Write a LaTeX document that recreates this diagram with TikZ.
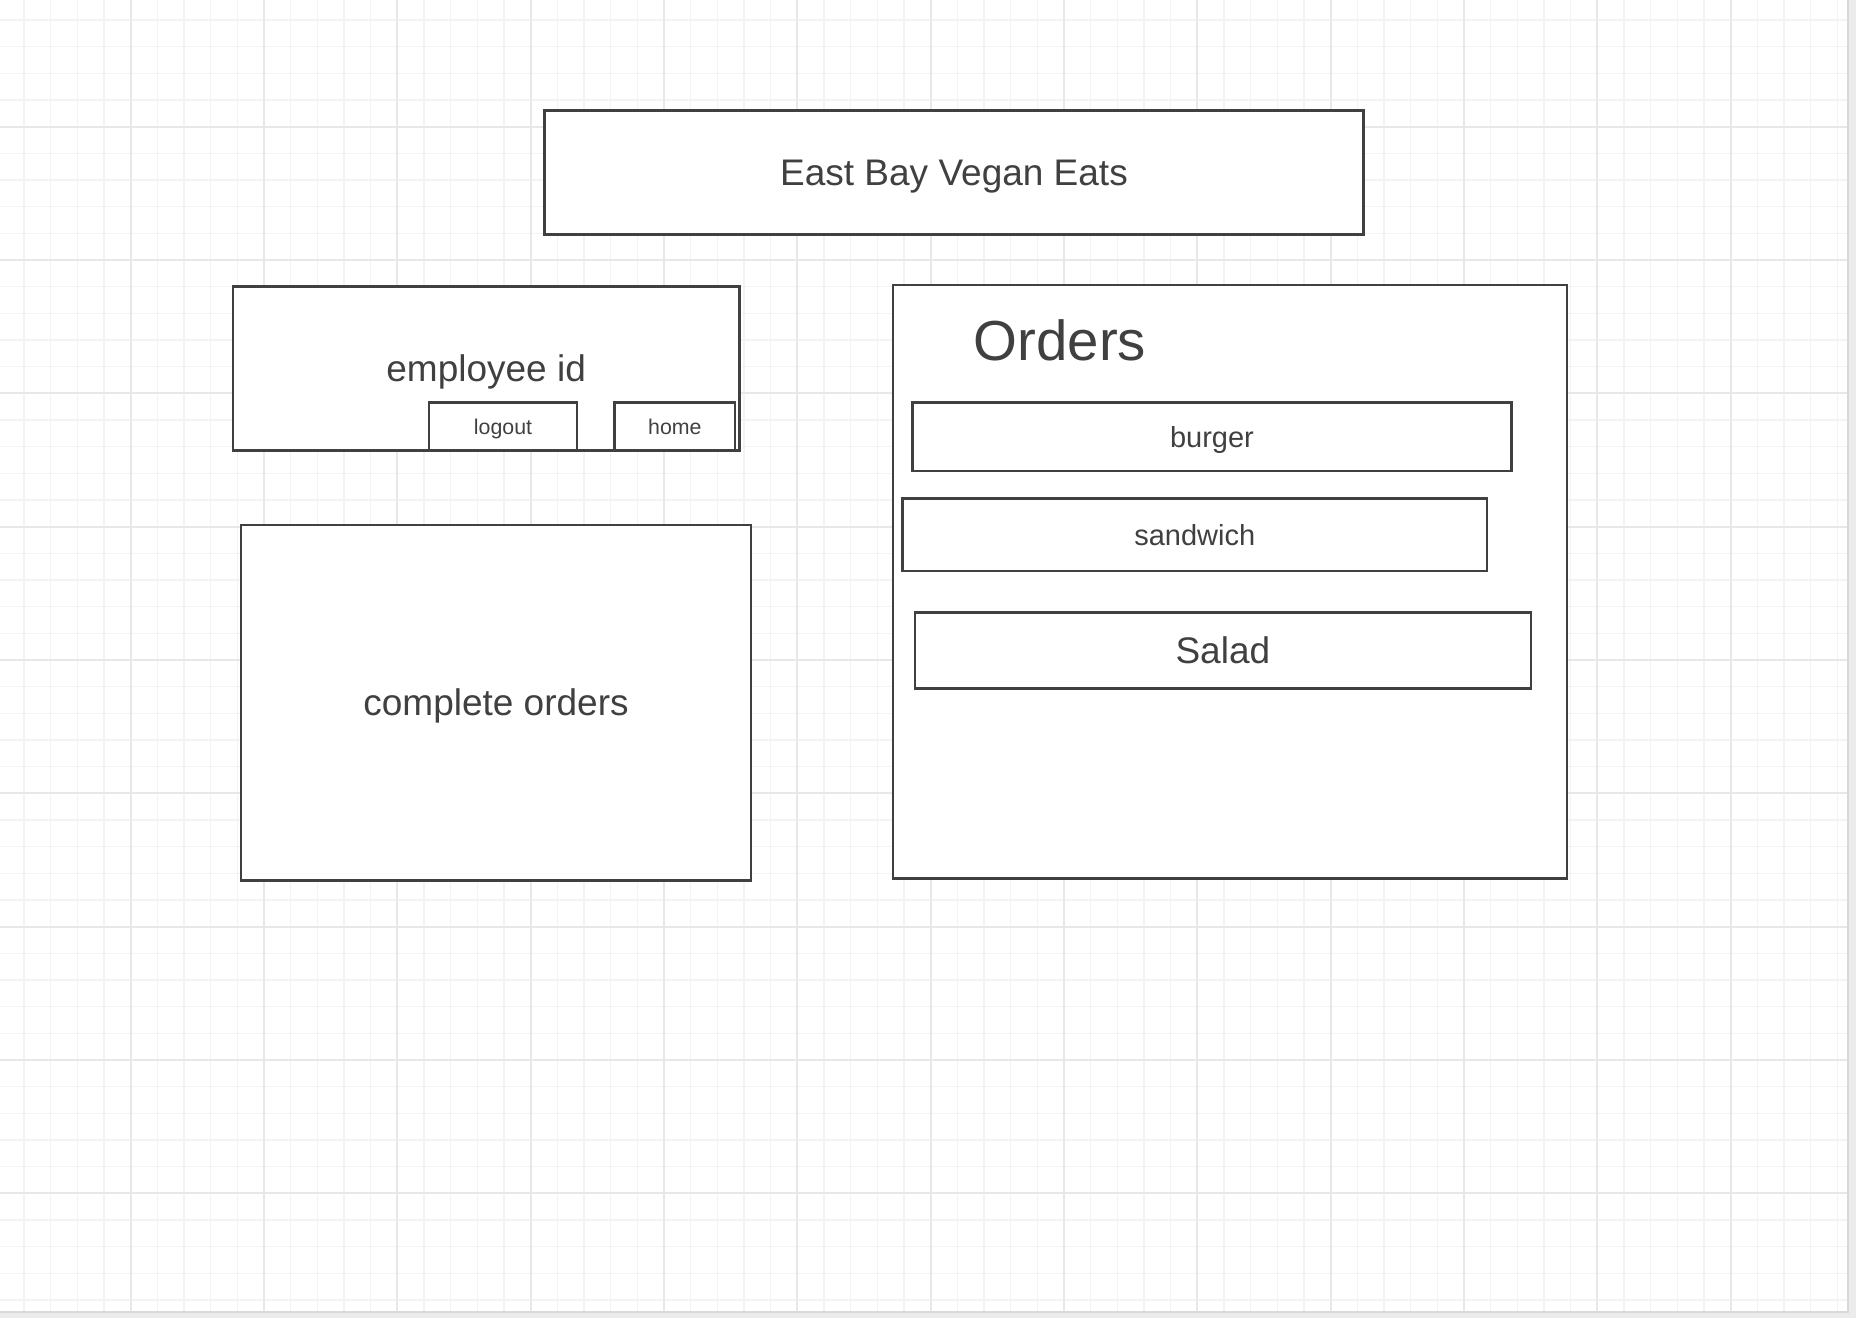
\documentclass[tikz,border=0pt]{standalone}
\usepackage{fontspec}
\setmainfont{Liberation Sans}
\definecolor{ink}{HTML}{404040}
\definecolor{gminor}{HTML}{F3F3F3}
\definecolor{gmajor}{HTML}{E8E8E8}
\definecolor{marginc}{HTML}{EBEBEB}
\begin{document}
\begin{tikzpicture}[x=0.75pt,y=-0.75pt,
  box/.style={draw=ink,line width=1.85pt,fill=white,inner sep=0pt,outer sep=0pt,text=ink},
  wh/.style 2 args={minimum width={#1*0.75pt},minimum height={#2*0.75pt}},
  minorline/.style={draw=gminor,line width=1.1pt},
  majorline/.style={draw=gmajor,line width=1.3pt},
  fbig/.style={font=\fontsize{27.75}{33}\selectfont,text height=24.98pt,text depth=5.55pt},
  fhuge/.style={font=\fontsize{42.3}{50}\selectfont,text height=38.07pt,text depth=8.46pt},
  fmid/.style={font=\fontsize{21.75}{26}\selectfont,text height=19.58pt,text depth=4.35pt},
  fsmall/.style={font=\fontsize{16}{19}\selectfont,text height=14.4pt,text depth=3.2pt}]
\useasboundingbox (0,0) rectangle (1856,1318);
\fill[marginc] (0,0) rectangle (1856,1318);
\fill[white] (0,0) rectangle (1848,1312);
% grid
\foreach \i in {0,...,68} {\draw[minorline] ({24+26.6667*\i},0) -- ({24+26.6667*\i},1312);}
\foreach \i in {0,...,48} {\draw[minorline] (0,{20+26.6667*\i}) -- (1848,{20+26.6667*\i});}
\foreach \i in {0,...,12} {\draw[majorline] ({130.667+133.333*\i},0) -- ({130.667+133.333*\i},1312);}
\foreach \i in {0,...,8} {\draw[majorline] (0,{126.667+133.333*\i}) -- (1848,{126.667+133.333*\i});}
\draw[draw=gray!30,line width=0.9pt] (1848,0) -- (1848,1312) -- (0,1312);
% title
\node[box,fbig,wh={819}{124}] (title) at (954,172.5) {East Bay Vegan Eats};
% employee panel
\node[box,fbig,wh={506.3}{164}] (employee) at (486.15,368.7) {employee id};
\node[box,fsmall,wh={148.4}{48}] (logout) at (503,426.7) {logout};
\node[box,fsmall,wh={120.5}{48}] (home) at (674.85,426.7) {home};
% complete orders
\node[box,fbig,wh={510}{355.3}] (complete) at (496,702.65) {complete orders};
% orders panel
\node[box,wh={674}{593.7}] (orders) at (1230,581.85) {};
\node[fhuge,text=ink,inner sep=0pt] (ordtitle) at (1060,341) {Orders};
\node[box,fmid,wh={598.7}{68.3}] (burger) at (1211.95,436.85) {burger};
\node[box,fmid,wh={584.8}{72.3}] (sandwich) at (1194.7,534.85) {sandwich};
\node[box,fbig,wh={616.1}{76}] (salad) at (1222.85,650.7) {Salad};
\end{tikzpicture}
\end{document}
